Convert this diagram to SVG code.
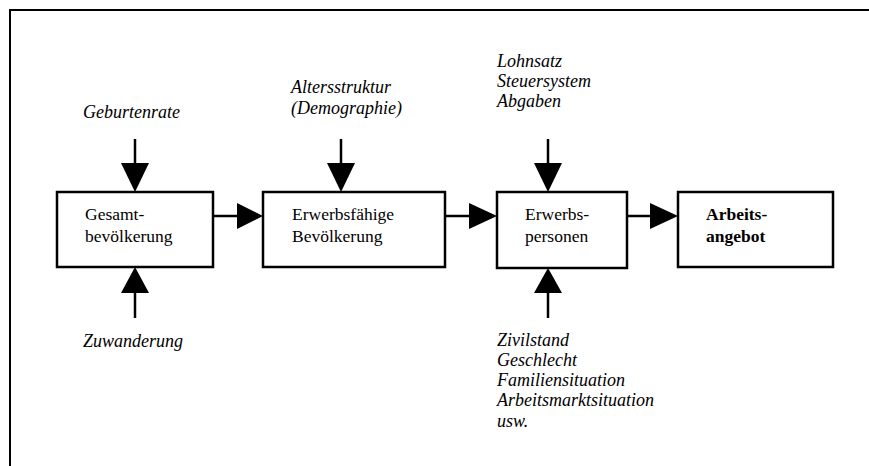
<svg xmlns="http://www.w3.org/2000/svg" width="869" height="466" viewBox="0 0 869 466">
<style>
.box{fill:#fff;stroke:#000;stroke-width:2.5}
.ln{stroke:#000;stroke-width:2.5;fill:none}
.hd{fill:#000;stroke:none}
text{font-family:'Liberation Serif','DejaVu Serif',serif;font-size:17.5px;fill:#000}
.i{font-style:italic;font-size:18px}
.b{font-weight:bold}
</style>
<rect width="869" height="466" fill="#fff"/>
<path d="M10,480 V10 H880" fill="none" stroke="#000" stroke-width="2"/>
<g id="connectors">
<line class="ln" x1="213" y1="216" x2="240" y2="216"/><polygon class="hd" points="237,203 263,216 237,229"/>
<line class="ln" x1="445" y1="216" x2="472" y2="216"/><polygon class="hd" points="469,203 497,216 469,229"/>
<line class="ln" x1="627" y1="216" x2="654" y2="216"/><polygon class="hd" points="650,203 678,216 650,229"/>
<line class="ln" x1="135" y1="139" x2="135" y2="166"/><polygon class="hd" points="121,163 149,163 135,192"/>
<line class="ln" x1="135" y1="318" x2="135" y2="290"/><polygon class="hd" points="121,293 149,293 135,267"/>
<line class="ln" x1="341" y1="139" x2="341" y2="166"/><polygon class="hd" points="327,163 355,163 341,192"/>
<line class="ln" x1="548" y1="139" x2="548" y2="166"/><polygon class="hd" points="534,163 562,163 548,192"/>
<line class="ln" x1="548" y1="318" x2="548" y2="290"/><polygon class="hd" points="534,293 562,293 548,268"/>
</g>
<g id="gesamt">
<rect class="box" x="57" y="192" width="156" height="75"/>
<text x="85" y="220">Gesamt-</text>
<text x="85" y="242">bevölkerung</text>
</g>
<g id="erwerbsfaehige">
<rect class="box" x="263" y="192" width="182" height="75"/>
<text x="292" y="220">Erwerbsfähige</text>
<text x="292" y="242">Bevölkerung</text>
</g>
<g id="erwerbspersonen">
<rect class="box" x="497" y="192" width="130" height="76"/>
<text x="525" y="220">Erwerbs-</text>
<text x="525" y="242">personen</text>
</g>
<g id="arbeitsangebot">
<rect class="box" x="678" y="192" width="155" height="75"/>
<text class="b" x="706" y="220">Arbeits-</text>
<text class="b" x="706" y="242">angebot</text>
</g>
<g id="geburtenrate"><text class="i" x="83" y="118">Geburtenrate</text></g>
<g id="zuwanderung"><text class="i" x="83" y="347">Zuwanderung</text></g>
<g id="altersstruktur">
<text class="i" x="291" y="93">Altersstruktur</text>
<text class="i" x="291" y="114">(Demographie)</text>
</g>
<g id="lohnsatz">
<text class="i" x="497" y="67">Lohnsatz</text>
<text class="i" x="497" y="87">Steuersystem</text>
<text class="i" x="497" y="107">Abgaben</text>
</g>
<g id="zivilstand">
<text class="i" x="497" y="346">Zivilstand</text>
<text class="i" x="497" y="366">Geschlecht</text>
<text class="i" x="497" y="386">Familiensituation</text>
<text class="i" x="497" y="406">Arbeitsmarktsituation</text>
<text class="i" x="497" y="427">usw.</text>
</g>
</svg>
